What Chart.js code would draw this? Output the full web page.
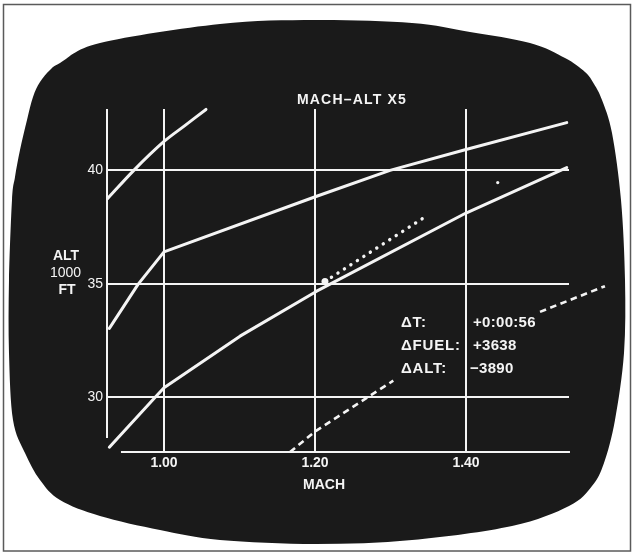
<!DOCTYPE html>
<html><head><meta charset="utf-8">
<script src="https://cdn.jsdelivr.net/npm/chart.js@4.4.1/dist/chart.umd.min.js"></script>
<style>html,body{margin:0;padding:0;background:#fff;}canvas{display:block;}</style>
</head><body>
<canvas id="c" width="632" height="553"></canvas>
<script>
// ---- data ----
const xTicks = [1.00, 1.20, 1.40];
const yTicks = [30, 35, 40];

const machUpper = [0.9254, 0.960, 1.000, 1.028, 1.0556];
const altUpper  = [38.76, 40.00, 41.27, 41.98, 42.68];

const machMid = [0.9276, 0.9656, 1.000, 1.2022, 1.2993, 1.400, 1.5334];
const altMid  = [33.04, 34.98, 36.41, 38.86, 40.00, 40.92, 42.10];

const machLow = [0.9276, 0.988, 1.000, 1.1007, 1.2022, 1.400, 1.5334];
const altLow  = [27.81, 30.00, 30.43, 32.70, 34.68, 38.12, 40.12];

const machDotted = [1.2132, 1.343];
const altDotted  = [35.11, 37.89];

const machDashed = [1.1669, 1.200, 1.2685, 1.3037, 1.400, 1.498, 1.584];
const altDashed  = [27.60, 28.50, 29.98, 30.74, null, 33.77, 34.90];

const machSpeck = [1.442];
const altSpeck  = [39.46];

const chartTitle = 'MACH\u2013ALT X5';
const xTitle = 'MACH';
const yTitle = ['ALT', '1000', 'FT'];
const deltaLabels = ['\u0394T:', '\u0394FUEL:', '\u0394ALT:'];
const deltaValues = ['+0:00:56', '+3638', '\u22123890'];

// ---- helpers ----
const pts = (xs, ys) => xs.map((x, i) => ({x: x, y: ys[i]}));
const FONT = "'Liberation Sans', Arial, sans-serif";
const INK = '#f4f4f4';

const crtOutline = [
  [316,20],[412,23],[470,32],[530,43],[565,58],[585,72],[594,84],[602,100],[612,133],[621,200],[625,280],
  [624,353],[615,420],[604,463],[592,486],[569,506],[512,526],[412,540],[316,544],[220,540],
  [160,530],[100,516],[60,500],[40,480],[25,453],[13,420],[9,353],[9,280],[12,200],[15,177],
  [20,150],[27,120],[33,97],[40,82],[50,70],[60,63],[100,43],[220,24]
];

function smoothClosed(ctx, p) {
  const n = p.length;
  ctx.beginPath();
  ctx.moveTo(p[0][0], p[0][1]);
  for (let i = 0; i < n; i++) {
    const p0 = p[(i - 1 + n) % n], p1 = p[i], p2 = p[(i + 1) % n], p3 = p[(i + 2) % n];
    ctx.bezierCurveTo(p1[0] + (p2[0] - p0[0]) / 6, p1[1] + (p2[1] - p0[1]) / 6,
                      p2[0] - (p3[0] - p1[0]) / 6, p2[1] - (p3[1] - p1[1]) / 6,
                      p2[0], p2[1]);
  }
  ctx.closePath();
}

const screenPlugin = {
  id: 'screen',
  beforeDraw(chart) {
    const ctx = chart.ctx;
    ctx.save();
    ctx.fillStyle = '#ffffff';
    ctx.fillRect(0, 0, chart.width, chart.height);
    ctx.strokeStyle = '#5a5a5a';
    ctx.lineWidth = 1.5;
    ctx.strokeRect(3.5, 4.5, 627, 546.5);
    ctx.fillStyle = '#1a1a1a';
    smoothClosed(ctx, crtOutline);
    ctx.fill();
    ctx.restore();
  },
  beforeDatasetsDraw(chart) {
    const ctx = chart.ctx, xs = chart.scales.x, ys = chart.scales.y;
    ctx.save();
    ctx.strokeStyle = INK;
    ctx.lineWidth = 2;
    ctx.lineCap = 'butt';
    // left frame line
    const lx = xs.getPixelForValue(xs.min);
    ctx.beginPath();
    ctx.moveTo(lx, ys.getPixelForValue(ys.max));
    ctx.lineTo(lx, ys.getPixelForValue(28.22));
    ctx.stroke();
    // bottom axis line
    const by = ys.getPixelForValue(ys.min);
    ctx.beginPath();
    ctx.moveTo(xs.getPixelForValue(0.943), by);
    ctx.lineTo(xs.getPixelForValue(1.5377), by);
    ctx.stroke();
    ctx.restore();
  },
  afterDraw(chart) {
    const ctx = chart.ctx;
    ctx.save();
    ctx.fillStyle = INK;
    ctx.textBaseline = 'middle';
    // title
    ctx.textAlign = 'center';
    ctx.font = 'bold 14px ' + FONT;
    try { ctx.letterSpacing = '1.2px'; } catch (e) {}
    ctx.fillText(chartTitle, 352, 100);
    try { ctx.letterSpacing = '0px'; } catch (e) {}
    // x title
    ctx.fillText(xTitle, 324, 485);
    // y title
    ctx.fillText(yTitle[0], 66, 256);
    ctx.font = '14px ' + FONT;
    ctx.fillText(yTitle[1], 65.5, 273.5);
    ctx.font = 'bold 14px ' + FONT;
    ctx.fillText(yTitle[2], 67, 290);
    // delta block
    ctx.textAlign = 'left';
    ctx.font = 'bold 15px ' + FONT;
    const rows = [322.7, 346, 369.3];
    const valX = [473, 473, 470];
    try { ctx.letterSpacing = '0.8px'; } catch (e) {}
    deltaLabels.forEach((t, i) => ctx.fillText(t, 401, rows[i]));
    try { ctx.letterSpacing = '0.3px'; } catch (e) {}
    deltaValues.forEach((t, i) => ctx.fillText(t, valX[i], rows[i]));
    ctx.restore();
  }
};

const lineBase = {
  borderColor: INK, borderWidth: 3, pointRadius: 0, fill: false,
  tension: 0, clip: false, borderCapStyle: 'round', borderJoinStyle: 'round'
};

new Chart(document.getElementById('c'), {
  type: 'line',
  data: {
    datasets: [
      Object.assign({}, lineBase, {data: pts(machUpper, altUpper), tension: 0.3}),
      Object.assign({}, lineBase, {data: pts(machMid, altMid)}),
      Object.assign({}, lineBase, {data: pts(machLow, altLow)}),
      Object.assign({}, lineBase, {data: pts(machDotted, altDotted), borderDash: [0.1, 7.6], borderWidth: 3.4,
        pointRadius: [3.5, 0], pointBackgroundColor: INK, pointBorderWidth: 0}),
      Object.assign({}, lineBase, {data: pts(machDashed, altDashed), borderDash: [6.5, 4.5], borderWidth: 2.6,
        borderCapStyle: 'butt', spanGaps: false}),
      Object.assign({}, lineBase, {data: pts(machSpeck, altSpeck), showLine: false, pointRadius: 1.6,
        pointBackgroundColor: INK, pointBorderWidth: 0})
    ]
  },
  options: {
    responsive: false,
    animation: false,
    events: [],
    layout: {padding: {left: 67, right: 63, top: 109, bottom: 71}},
    plugins: {legend: {display: false}, tooltip: {enabled: false}, title: {display: false}},
    scales: {
      x: {
        type: 'linear', min: 0.9245, max: 1.5364,
        afterBuildTicks: s => { s.ticks = xTicks.map(v => ({value: v})); },
        afterFit: s => { s.height = 30; },
        grid: {color: INK, lineWidth: 2, drawTicks: false},
        border: {display: false},
        ticks: {color: INK, font: {family: FONT, size: 14, weight: 'bold'}, padding: 3,
                maxRotation: 0, autoSkip: false, callback: v => Number(v).toFixed(2)}
      },
      y: {
        type: 'linear', min: 27.6, max: 42.7,
        afterBuildTicks: s => { s.ticks = yTicks.map(v => ({value: v})); },
        afterFit: s => { s.width = 40; },
        grid: {color: INK, lineWidth: 2, drawTicks: false},
        border: {display: false},
        ticks: {color: INK, font: {family: FONT, size: 14}, padding: 4, autoSkip: false,
                callback: v => String(v)}
      }
    }
  },
  plugins: [screenPlugin]
});
</script>
</body></html>
